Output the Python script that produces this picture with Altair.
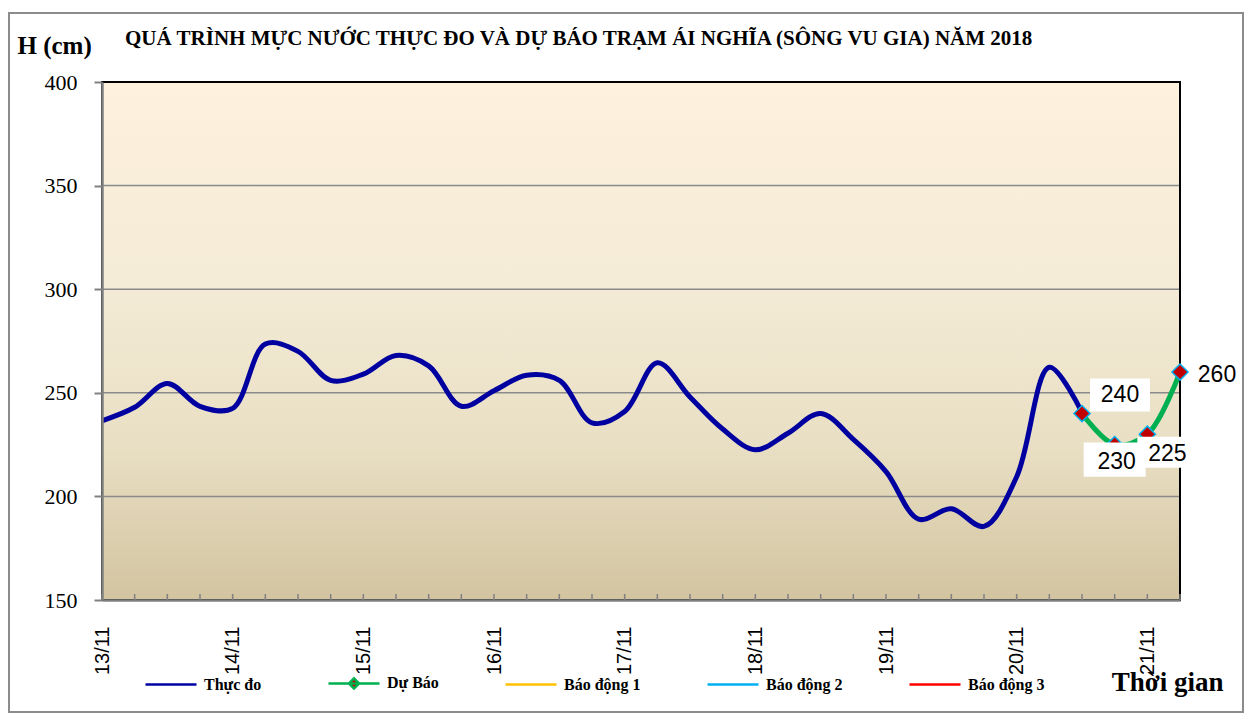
import json
import altair as alt
import pandas as pd

# ---------------- data ----------------
day_labels = ["13/11", "14/11", "15/11", "16/11", "17/11", "18/11", "19/11", "20/11", "21/11"]
# measured water level (cm), every 6 hours from 13/11 00h
measured = [236.5, 243, 254.5, 243.5, 242.5, 273.5, 270, 256, 259, 268,
            263, 243.5, 251, 258.5, 256, 235.5, 241, 264.5, 248, 232.5,
            222.5, 230.5, 240, 227.5, 212, 189, 194, 185.5, 209.5, 262.3,
            240.5]
forecast = [240, 225, 230, 260]
forecast_labels = ["240", "230", "225", "260"]
y_ticks = [150, 200, 250, 300, 350, 400]
series_names = ["Thực đo", "Dự Báo", "Báo động 1", "Báo động 2", "Báo động 3"]
series_colors = ["#0000A0", "#00B050", "#FFC000", "#00B0F0", "#FF0000"]
steps_per_day = 4
n_steps = 33

title_text = "QUÁ TRÌNH MỰC NƯỚC THỰC ĐO VÀ DỰ BÁO TRẠM ÁI NGHĨA (SÔNG VU GIA) NĂM  2018"

W, H = 1078, 518

meas_df = pd.DataFrame({"t": list(range(len(measured))), "h": measured,
                        "series": series_names[0]})
start = len(measured) - 1
fc_df = pd.DataFrame({"t": [start + k for k in range(len(forecast))], "h": forecast,
                      "series": series_names[1], "lbl": forecast_labels,
                      "k": list(range(len(forecast)))})
one = pd.DataFrame({"a": [0]})
tick_df = pd.DataFrame({"t": list(range(n_steps + 1))})
grid_df = pd.DataFrame({"h": y_ticks[1:-1]})

xscale = alt.Scale(domain=[0, n_steps], nice=False, zero=False)
yscale = alt.Scale(domain=[y_ticks[0], y_ticks[-1]], nice=False, zero=False)
cscale = alt.Scale(domain=series_names, range=series_colors)

label_expr = json.dumps(day_labels) + "[round(datum.value / %d)]" % steps_per_day

xaxis = alt.Axis(
    values=list(range(0, n_steps, steps_per_day)),
    labelExpr=label_expr, labelAngle=-90, labelFont="Liberation Sans",
    labelFontSize=20, labelColor="black", labelPadding=26, labelFlush=False,
    labelOverlap=False, labelBound=False, ticks=False, grid=False,
    domainColor="#808080", domainWidth=2.5,
    title="Thời gian", titleX=1121, titleY=90, titleAlign="right",
    titleBaseline="alphabetic", titleFont="Liberation Serif", titleFontSize=27,
    titleFontWeight="bold", titleColor="black", zindex=1)

yaxis = alt.Axis(
    values=y_ticks, grid=False, labelFont="Liberation Serif", labelFontSize=22,
    labelColor="black", labelPadding=17, tickSize=8, tickColor="#808080",
    tickWidth=2, domainColor="#808080", domainWidth=2.5,
    title="H (cm)", titleAngle=0, titleX=-85, titleY=-29, titleAlign="left",
    titleBaseline="alphabetic", titleFont="Liberation Serif", titleFontSize=25,
    titleFontWeight="bold", titleColor="black", zindex=1)

legend = alt.Legend(
    orient="none", legendX=42, legendY=574, direction="horizontal", columns=5,
    columnPadding=61, title=None, padding=0,
    symbolType=alt.ExprRef(expr="datum.value === 'Dự Báo' ? 'M-1,0L1,0M0,-0.2L0.2,0L0,0.2L-0.2,0Z' : 'M-1,0L1,0'"),
    symbolFillColor=alt.ExprRef(expr="datum.value === 'Dự Báo' ? '#C00000' : 'transparent'"),
    symbolSize=2601, symbolStrokeWidth=2.5, labelFont="Liberation Serif",
    labelFontWeight="bold", labelFontSize=16, labelColor="black", labelOffset=6,
    labelLimit=0)

grad = alt.LinearGradient(
    gradient="linear", x1=0, x2=0, y1=0, y2=1,
    stops=[alt.GradientStop(color="#FEF1DD", offset=0),
           alt.GradientStop(color="#F4EBD6", offset=0.4),
           alt.GradientStop(color="#E9DFC4", offset=0.7),
           alt.GradientStop(color="#D2C4A0", offset=1)])

X = alt.X("t:Q", scale=xscale, axis=xaxis)
Y = alt.Y("h:Q", scale=yscale, axis=yaxis)

bg = alt.Chart(one).mark_rect(fill=grad).encode(
    x=alt.value(0), x2=alt.value(W), y=alt.value(0), y2=alt.value(H))

frame = alt.Chart(one).mark_rect(fillOpacity=0, stroke="#8c8c8c", strokeWidth=2).encode(
    x=alt.value(-93), x2=alt.value(1141), y=alt.value(-69), y2=alt.value(630))

grid = alt.Chart(grid_df).mark_rule(color="#8a8a8a", strokeWidth=1.5).encode(y=Y)

border = alt.Chart(one).mark_rect(fillOpacity=0, stroke="black", strokeWidth=2).encode(
    x=alt.value(0), x2=alt.value(W), y=alt.value(0), y2=alt.value(H))

xticks = alt.Chart(tick_df).mark_rule(color="#808080", strokeWidth=1.5).encode(
    x=X, y=alt.value(H - 6), y2=alt.value(H))

meas_line = alt.Chart(meas_df).mark_line(strokeWidth=5, interpolate="catmull-rom").encode(
    x=X, y=Y, color=alt.Color("series:N", scale=cscale, legend=legend))

fc_line = alt.Chart(fc_df).mark_line(strokeWidth=5, interpolate="catmull-rom").encode(
    x=X, y=Y, color=alt.Color("series:N", scale=cscale, legend=legend))

pts = alt.Chart(fc_df).mark_point(shape="diamond", size=260, filled=True, fill="#C00000",
                                  stroke="#00B0F0", strokeWidth=1.5, opacity=1).encode(x=X, y=Y)

box_path = "M-1,-0.55L1,-0.55L1,0.55L-1,0.55Z"
box_style = [(0, 3600, 38, -18.5), (2, 3136, 18, 18), (1, 3844, 0, 15)]
boxes = [
    alt.Chart(fc_df).transform_filter(alt.datum.k == k).mark_point(
        shape=box_path, size=s, filled=True, fill="white", opacity=1,
        xOffset=ox, yOffset=oy).encode(x=X, y=Y)
    for k, s, ox, oy in box_style
]

label_style = [(0, 38, -18.5), (1, 2, 17), (2, 20, 20), (3, 37, 3)]
labels = [
    alt.Chart(fc_df).transform_filter(alt.datum.k == k).mark_text(
        font="Liberation Sans", fontSize=23, color="black", align="center",
        baseline="middle", dx=dx, dy=dy).encode(x=X, y=Y, text="lbl:N")
    for k, dx, dy in label_style
]

chart = alt.layer(bg, frame, grid, border, xticks, meas_line, fc_line, pts, *boxes, *labels).properties(
    width=W, height=H,
    padding={"left": 94, "top": 74, "right": 65, "bottom": 114},
    autosize=alt.AutoSizeParams(type="none"),
    title=alt.Title(title_text, font="Liberation Serif", fontSize=21, fontWeight="bold",
                    color="black", anchor="start", dx=117, dy=47, offset=10),
).configure_view(stroke=None).configure(background="white")

chart.save("out.html", embed_options={"renderer": "svg", "actions": False})
